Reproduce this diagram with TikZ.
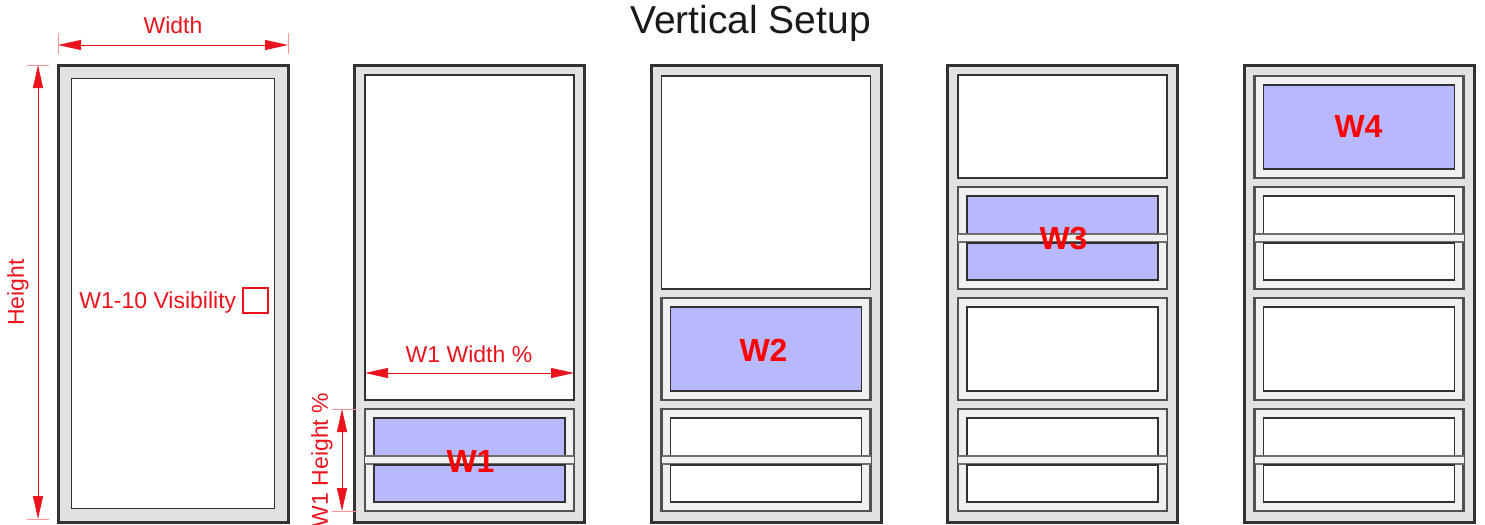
\documentclass[tikz,border=0pt]{standalone}
\usepackage{fontspec}
\setmainfont{Liberation Sans}
\setsansfont{Liberation Sans}
\usetikzlibrary{positioning,arrows.meta}
\definecolor{wdEdge}{RGB}{50,50,50}
\definecolor{wdFrame}{RGB}{226,226,226}
\definecolor{wdSash}{RGB}{241,241,241}
\definecolor{wdGlass}{RGB}{184,184,255}
\definecolor{wdRail}{RGB}{110,110,110}
\definecolor{wdRed}{RGB}{235,20,30}
\definecolor{wdPink}{RGB}{255,150,150}
\tikzset{
    base/.style={inner sep=0pt, font=\sffamily},
    frame/.style={draw=wdEdge, line width=1.5pt, fill=wdFrame},
    pane/.style={draw=wdEdge, line width=0.8pt, fill=white},
    sashbox/.style={draw=wdEdge!85, line width=1.3pt, fill=wdSash},
    glass/.style={draw=wdEdge, line width=0.9pt},
    rail/.style={draw=wdRail, line width=0.6pt},
    dim/.style={{Triangle[length=11.5pt,width=5pt]}-{Triangle[length=11.5pt,width=5pt]},
                draw=wdRed, line width=0.5pt},
    ext/.style={draw=wdPink, line width=0.5pt},
    dimtext/.style={base, text=wdRed, font=\sffamily\fontsize{11.5}{14}\selectfont},
    wlabel/.style={base, text=red, font=\sffamily\bfseries\fontsize{16}{19}\selectfont},
    title/.style={base, text=black!90, font=\sffamily\fontsize{19.5}{23}\selectfont},
    visbox/.style={draw=wdRed, line width=0.6pt, minimum size=12.5pt, inner sep=0pt},
    pics/onesash/.style={code={
        \draw[sashbox] (0,0) rectangle (209,102);
        \draw[glass, fill=#1] (9,9) rectangle (200,93);
    }},
    pics/twosash/.style={code={
        \draw[sashbox] (0,0) rectangle (209,102);
        \fill[#1] (9,9) rectangle (200,47);
        \draw[glass] (9,47) -- (9,9) -- (200,9) -- (200,47);
        \fill[wdSash] (0,47) rectangle (209,55);
        \draw[rail] (0,47) -- (209,47) (0,55) -- (209,55);
        \draw[glass, fill=#1] (9,56) rectangle (200,93);
    }}
}
\begin{document}
\begin{tikzpicture}[x=0.5pt, y=-0.5pt]
  \useasboundingbox (0,0) rectangle (1485,525);

  % Frames
  \foreach \fx in {58,354.5,651,947.5,1244}
    \draw[frame] (\fx,65) rectangle ++(230,457);

  % Frame 1: one pane
  \draw[pane] (71.5,78.5) rectangle (274.5,508.5);

  % Frame 2
  \draw[pane] (365,75) rectangle (574,400);
  \pic (s24) at (365,409) {twosash=wdGlass};

  % Frame 3
  \draw[pane] (661.5,76) rectangle (870.5,289);
  \pic (s33) at (661.5,298) {onesash=wdGlass};
  \pic (s34) at (661.5,409) {twosash=white};

  % Frame 4
  \draw[pane] (958,75) rectangle (1167,178);
  \pic (s42) at (958,187) {twosash=wdGlass};
  \pic (s43) at (958,298) {onesash=white};
  \pic (s44) at (958,409) {twosash=white};

  % Frame 5
  \pic (s51) at (1254.5,76) {onesash=wdGlass};
  \pic (s52) at (1254.5,187) {twosash=white};
  \pic (s53) at (1254.5,298) {onesash=white};
  \pic (s54) at (1254.5,409) {twosash=white};

  % Window labels
  \node[wlabel, anchor=base] (w1) at (470.5,472) {W1};
  \node[wlabel, anchor=base] (w2) at (763.5,361) {W2};
  \node[wlabel, anchor=base] (w3) at (1063.5,249) {W3};
  \node[wlabel, anchor=base] (w4) at (1358.5,137) {W4};

  % Title
  \node[title, anchor=base] (title) at (750.5,33) {Vertical Setup};

  % Width
  \coordinate (wl) at (58,45);
  \coordinate (wr) at (288,45);
  \draw[ext] (wl) ++(0,-12) -- ++(0,21);
  \draw[ext] (wr) ++(0,-12) -- ++(0,21);
  \draw[dim] (wl) -- (wr);
  \node[dimtext, anchor=base] (wtxt) at (173,33) {Width};

  % Height
  \coordinate (ht) at (38,65);
  \coordinate (hb) at (38,519);
  \draw[ext] (ht) ++(-11,0) -- ++(22,0);
  \draw[ext] (hb) ++(-11,0) -- ++(22,0);
  \draw[dim] (ht) -- (hb);
  \node[dimtext, rotate=90] (htxt) at (18,292.5) {Height};

  % Visibility
  \node[dimtext, anchor=base west] (vis) at (79,308) {W1-10 Visibility};
  \node[visbox] (vbox) at (255.5,300.5) {};

  % W1 width
  \coordinate (w1l) at (365,373);
  \coordinate (w1r) at (574,373);
  \draw[dim] (w1l) -- (w1r);
  \node[dimtext, anchor=base] (w1wtxt) at (469,362) {W1 Width \%};

  % W1 height
  \coordinate (w1t) at (342,409);
  \coordinate (w1b) at (342,511);
  \draw[ext] (w1t) ++(-10,0) -- ++(25,0);
  \draw[ext] (w1b) ++(-10,0) -- ++(25,0);
  \draw[dim] (w1t) -- (w1b);
  \node[dimtext, rotate=90] (w1htxt) at (322,460) {W1 Height \%};
\end{tikzpicture}
\end{document}
